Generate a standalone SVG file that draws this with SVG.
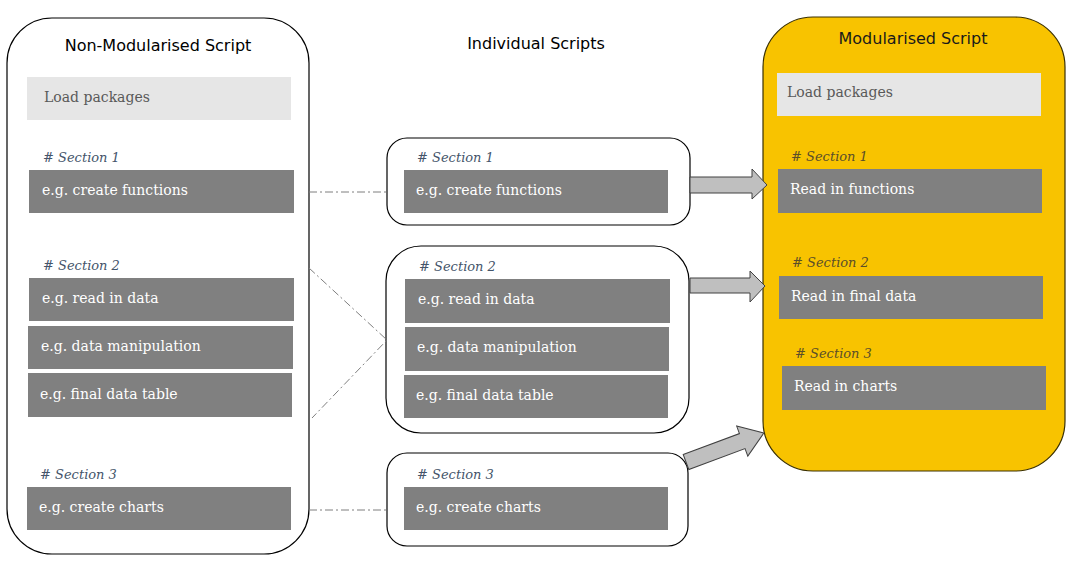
<svg xmlns="http://www.w3.org/2000/svg" width="1069" height="570" viewBox="0 0 1069 570">
<defs>
<style>
.container{fill:#ffffff;stroke:#000000;stroke-width:1.2}
.yellow{fill:#F8C300;stroke:#3a3000;stroke-width:1.2}
.light{fill:#E6E6E6}
.dark{fill:#808080}
.title{font-family:"DejaVu Sans","Liberation Sans",sans-serif;font-size:16px;fill:#000000}
.txt{font-family:"DejaVu Serif","Liberation Serif",serif;font-size:14px;fill:#ffffff}
.ltxt{font-family:"DejaVu Serif","Liberation Serif",serif;font-size:14px;fill:#595959}
.sec{font-family:"DejaVu Serif","Liberation Serif",serif;font-style:italic;font-size:13px;fill:#44546A}
.secy{font-family:"DejaVu Serif","Liberation Serif",serif;font-style:italic;font-size:13px;fill:#5A4E2A}
.dd{fill:none;stroke:#7f7f7f;stroke-width:1;stroke-dasharray:8,3,2,3}
.barrow{fill:#BFBFBF;stroke:#404040;stroke-width:1}
</style>
</defs>
<rect width="1069" height="570" fill="#ffffff"/>

<g id="non-modularised">
<rect class="container" x="7" y="18" width="302" height="536" rx="45" ry="45"/>
<text class="title" x="158" y="51" text-anchor="middle">Non-Modularised Script</text>
<rect class="light" x="27" y="77" width="264" height="43"/>
<text class="ltxt" x="44" y="102">Load packages</text>
<text class="sec" x="43" y="162"># Section 1</text>
<rect class="dark" x="29" y="170" width="265" height="43"/>
<text class="txt" x="42" y="195">e.g. create functions</text>
<text class="sec" x="43" y="270"># Section 2</text>
<rect class="dark" x="29" y="278" width="265" height="43"/>
<text class="txt" x="42" y="303">e.g. read in data</text>
<rect class="dark" x="28" y="326" width="265" height="43"/>
<text class="txt" x="41" y="351">e.g. data manipulation</text>
<rect class="dark" x="28" y="373" width="264" height="44"/>
<text class="txt" x="40" y="399">e.g. final data table</text>
<text class="sec" x="40" y="479"># Section 3</text>
<rect class="dark" x="27" y="487" width="264" height="43"/>
<text class="txt" x="39" y="512">e.g. create charts</text>
</g>

<g id="individual-title">
<text class="title" x="536" y="49" text-anchor="middle">Individual Scripts</text>
</g>

<g id="individual-1">
<rect class="container" x="387" y="138" width="303" height="87" rx="20" ry="20"/>
<text class="sec" x="417" y="162"># Section 1</text>
<rect class="dark" x="404" y="170" width="264" height="43"/>
<text class="txt" x="416" y="195">e.g. create functions</text>
</g>

<g id="individual-2">
<rect class="container" x="386" y="246" width="303" height="187" rx="35" ry="35"/>
<text class="sec" x="419" y="271"># Section 2</text>
<rect class="dark" x="405" y="279" width="265" height="44"/>
<text class="txt" x="418" y="304">e.g. read in data</text>
<rect class="dark" x="405" y="327" width="264" height="44"/>
<text class="txt" x="417" y="352">e.g. data manipulation</text>
<rect class="dark" x="404" y="375" width="264" height="43"/>
<text class="txt" x="416" y="400">e.g. final data table</text>
</g>

<g id="individual-3">
<rect class="container" x="387" y="453" width="301" height="93" rx="20" ry="20"/>
<text class="sec" x="417" y="479"># Section 3</text>
<rect class="dark" x="404" y="487" width="264" height="43"/>
<text class="txt" x="416" y="512">e.g. create charts</text>
</g>

<g id="modularised">
<rect class="yellow" x="763" y="17" width="302" height="454" rx="50" ry="50"/>
<text class="title" x="913" y="44" text-anchor="middle" style="fill:#1a1a1a">Modularised Script</text>
<rect class="light" x="777" y="73" width="264" height="43"/>
<text class="ltxt" x="787" y="97">Load packages</text>
<text class="secy" x="791" y="161"># Section 1</text>
<rect class="dark" x="778" y="169" width="264" height="44"/>
<text class="txt" x="790" y="194">Read in functions</text>
<text class="secy" x="792" y="267"># Section 2</text>
<rect class="dark" x="779" y="276" width="264" height="43"/>
<text class="txt" x="791" y="301">Read in final data</text>
<text class="secy" x="795" y="358"># Section 3</text>
<rect class="dark" x="782" y="366" width="264" height="44"/>
<text class="txt" x="794" y="391">Read in charts</text>
</g>

<g id="connectors">
<line class="dd" x1="309" y1="192" x2="387" y2="192"/>
<polyline class="dd" points="309,268 387,340 312,418"/>
<line class="dd" x1="309" y1="510" x2="387" y2="510"/>
<polygon class="barrow" points="690,177 752,177 752,169 767,185 752,199 752,193 690,193"/>
<polygon class="barrow" points="690,278 750,278 750,271 765,286 750,302 750,293 690,293"/>
<g transform="translate(686,462) rotate(-20.4)">
<polygon class="barrow" points="0,-8 60,-8 60,-16 83,0 60,16 60,8 0,8"/>
</g>
</g>
</svg>
